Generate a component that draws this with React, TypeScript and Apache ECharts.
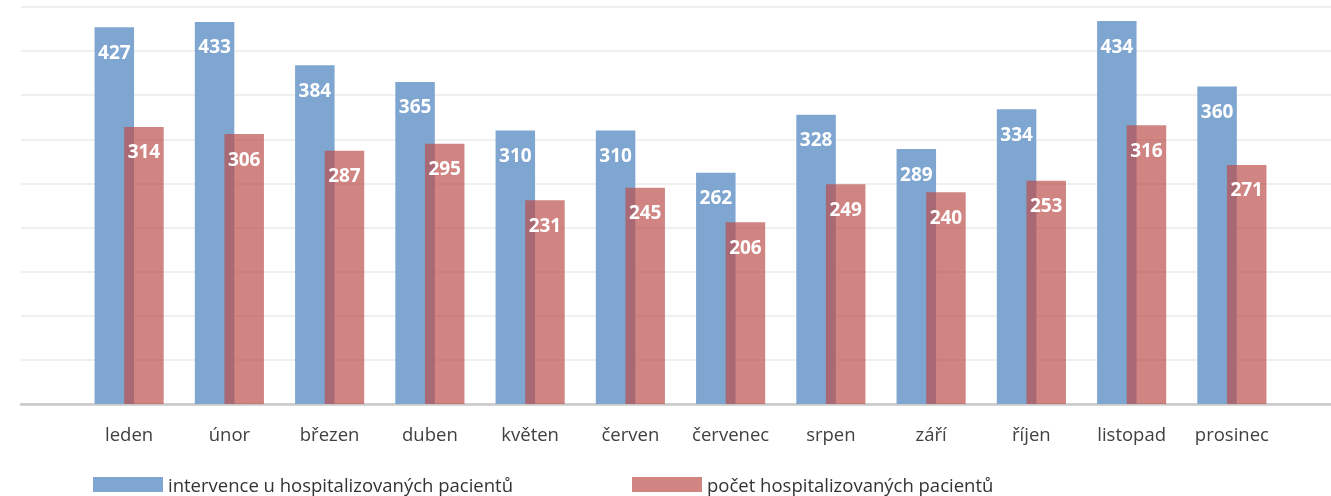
import React, { useEffect, useRef } from "react";
import * as echarts from "echarts";

const months = ["leden", "únor", "březen", "duben", "květen", "červen", "červenec", "srpen", "září", "říjen", "listopad", "prosinec"];
const interventions = [427, 433, 384, 365, 310, 310, 262, 328, 289, 334, 434, 360];
const patients = [314, 306, 287, 295, 231, 245, 206, 249, 240, 253, 316, 271];
const seriesNames = ["intervence u hospitalizovaných pacientů", "počet hospitalizovaných pacientů"];
const yMax = 450;
const yInterval = 50;

const FONT = "'Open Sans', sans-serif";

export default function App() {
  const ref = useRef<HTMLDivElement>(null);
  useEffect(() => {
    if (!ref.current) return;
    const chart = echarts.init(ref.current, null, { renderer: "svg" });
    const label = {
      show: true,
      position: "insideTop",
      distance: 15,
      color: "#ffffff",
      fontFamily: FONT,
      fontWeight: "bold",
      fontSize: 19,
    };
    const legendBase = {
      top: 475,
      padding: 0,
      itemWidth: 70,
      itemHeight: 15,
      itemGap: 5,
      icon: "rect",
      textStyle: { color: "#333333", fontSize: 18.5, fontFamily: FONT, padding: [0, 0, 0, 0] },
    };
    chart.setOption({
      animation: false,
      textStyle: { fontFamily: FONT },
      grid: [
        { left: 21, right: 0, top: 7, bottom: 92 },
        { left: 79, width: 1203, top: 7, bottom: 92 },
      ],
      xAxis: [
        {
          gridIndex: 0,
          type: "value",
          min: 0,
          max: 1,
          axisLine: { show: true, lineStyle: { color: "#c8c8c8", width: 2.5 } },
          axisTick: { show: false },
          axisLabel: { show: false },
          splitLine: { show: false },
        },
        {
          gridIndex: 1,
          type: "category",
          data: months,
          axisLine: { show: false },
          axisTick: { show: false },
          axisLabel: { color: "#404040", fontSize: 18.5, fontFamily: FONT, margin: 20, interval: 0 },
          splitLine: { show: false },
        },
      ],
      yAxis: [
        {
          gridIndex: 0,
          type: "value",
          min: 0,
          max: yMax,
          interval: yInterval,
          axisLine: { show: false },
          axisTick: { show: false },
          axisLabel: { show: false },
          splitLine: { show: true, lineStyle: { color: "#efefef", width: 2 } },
        },
        {
          gridIndex: 1,
          type: "value",
          min: 0,
          max: yMax,
          interval: yInterval,
          axisLine: { show: false },
          axisTick: { show: false },
          axisLabel: { show: false },
          splitLine: { show: false },
        },
      ],
      legend: [
        { ...legendBase, data: [seriesNames[0]], left: 93 },
        { ...legendBase, data: [seriesNames[1]], left: 632 },
      ],
      series: [
        {
          name: seriesNames[0],
          type: "bar",
          xAxisIndex: 1,
          yAxisIndex: 1,
          data: interventions,
          barWidth: 39.5,
          barGap: "-25%",
          itemStyle: { color: "#7fa6d0" },
          label,
        },
        {
          name: seriesNames[1],
          type: "bar",
          xAxisIndex: 1,
          yAxisIndex: 1,
          data: patients,
          barWidth: 39.5,
          barGap: "-25%",
          itemStyle: { color: "rgba(187,78,76,0.69)" },
          label,
        },
      ],
    });
    return () => chart.dispose();
  }, []);
  return (
    <div
      ref={ref}
      style={{ position: "fixed", left: 0, top: 0, width: 1331, height: 496 }}
    />
  );
}
